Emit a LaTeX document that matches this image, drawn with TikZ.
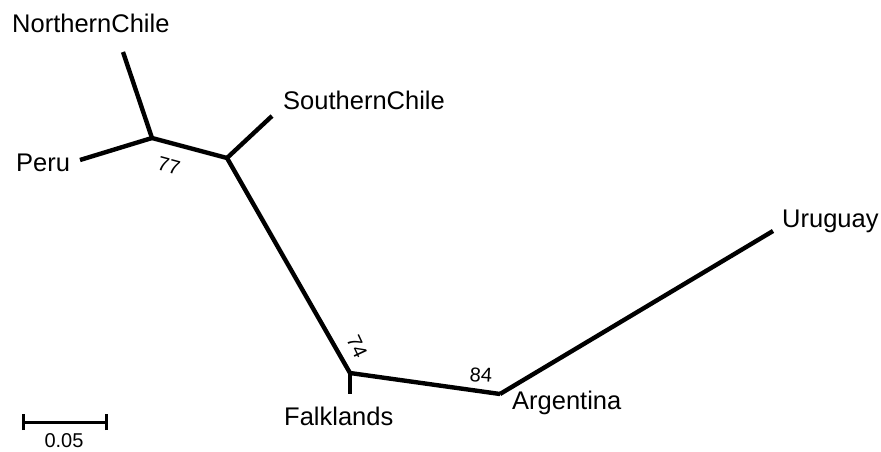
\documentclass[tikz,border=0pt]{standalone}
\usepackage{fontspec}
\setmainfont{Liberation Sans}
\begin{document}
\begin{tikzpicture}[x=1pt,y=-1pt,
  branch/.style={line width=4.4pt,line cap=butt,line join=miter},
  taxon/.style={font=\fontsize{25.5}{30}\selectfont,inner sep=0pt},
  support/.style={font=\fontsize{20}{24}\selectfont,inner sep=0pt},
  scalebar/.style={line width=3pt}]
\useasboundingbox (0,0) rectangle (881,452);
% internal nodes
\coordinate (a) at (152,138);
\coordinate (b) at (227,158);
\coordinate (c) at (350,373);
\coordinate (d) at (500,394);
% tips
\coordinate (tNC) at (123,52);
\coordinate (tPe) at (80,160);
\coordinate (tSC) at (272,116);
\coordinate (tFa) at (350,394);
\coordinate (tUr) at (773,231);
% branches
\draw[branch] (tNC) -- (a);
\draw[branch] (tPe) -- (a);
\draw[branch] (a) -- (b);
\draw[branch] (tSC) -- (b);
\draw[branch] (b) -- (c);
\draw[branch] (c) -- (tFa);
\draw[branch] (c) -- (d);
\draw[branch] (d) -- (tUr);
% taxon names
\node[taxon,anchor=west] (nNC) at (12,23) {NorthernChile};
\node[taxon,anchor=west] (nPe) at (16,163) {Peru};
\node[taxon,anchor=west] (nSC) at (283,100) {SouthernChile};
\node[taxon,anchor=west] (nFa) at (284,416) {Falklands};
\node[taxon,anchor=west] (nAr) at (512,403) {Argentina};
\node[taxon,anchor=west] (nUr) at (782,221) {Uruguay};
% bootstrap support
\node[support,rotate=-15] (s77) at (169,166) {77};
\node[support,rotate=-65] (s74) at (357,347) {74};
\node[support,rotate=-4] (s84) at (481,375) {84};
% scale bar
\coordinate (sbL) at (23,422);
\coordinate (sbR) at (106,422);
\draw[scalebar] (sbL) -- (sbR);
\draw[scalebar] ([yshift=-8pt]sbL) -- ([yshift=8pt]sbL);
\draw[scalebar] ([yshift=-8pt]sbR) -- ([yshift=8pt]sbR);
\node[support] (sbT) at (64,441) {0.05};
\end{tikzpicture}
\end{document}
